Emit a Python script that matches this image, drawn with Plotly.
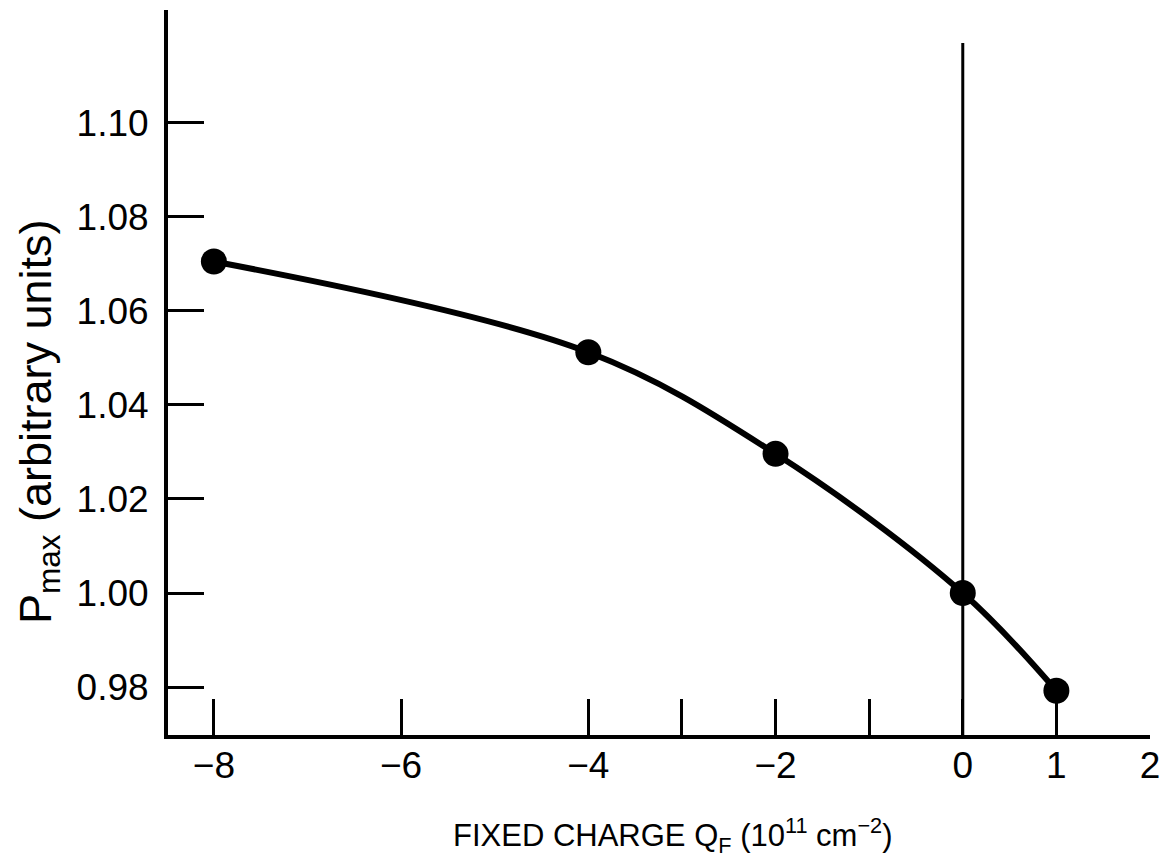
import plotly.graph_objects as go

# Data
charge = [-8, -4, -2, 0, 1]
pmax = [1.0705, 1.0512, 1.0296, 1.0, 0.9792]

x_tickvals = [-8, -6, -4, -3, -2, -1, 0, 1, 2]
x_ticktext = ["\u22128", "\u22126", "\u22124", "", "\u22122", "", "0", "1", "2"]
y_tickvals = [0.98, 1.00, 1.02, 1.04, 1.06, 1.08, 1.10]
y_ticktext = ["0.98", "1.00", "1.02", "1.04", "1.06", "1.08", "1.10"]

x_range = [-8.49, 2.0]
y_range = [0.9698, 1.124]
zero_line_top = 1.117

x_title = "FIXED CHARGE Q<sub>F</sub> (10<sup>11</sup> cm<sup>\u22122</sup>)"
y_title = "P<sub>max</sub> (arbitrary units)"

FONT = "Liberation Sans, Arial, Helvetica, sans-serif"

# page body has an 8px margin; keep figure inside the 1170x864 window
W, H = 1162, 856
L, R, T, B = 160, 20, 2, 129

fig = go.Figure()
fig.add_trace(go.Scatter(
    x=charge, y=pmax, mode="lines+markers",
    line=dict(color="black", width=6, shape="spline", smoothing=1.0),
    marker=dict(color="black", size=26),
    showlegend=False, hoverinfo="skip",
))

fig.add_shape(type="line", xref="x", yref="y",
              x0=0, x1=0, y0=y_range[0], y1=zero_line_top,
              line=dict(color="black", width=3), layer="below")

fig.update_layout(
    width=W, height=H,
    margin=dict(l=L, r=R, t=T, b=B),
    paper_bgcolor="white", plot_bgcolor="white",
    font=dict(family=FONT, color="black", size=37),
)

fig.update_xaxes(
    range=x_range, tickmode="array", tickvals=x_tickvals, ticktext=x_ticktext,
    ticks="inside", ticklen=36, tickwidth=3, tickcolor="black",
    showline=True, linewidth=4, linecolor="black",
    showgrid=False, zeroline=False,
    tickfont=dict(family=FONT, size=37, color="black"),
    ticklabelstandoff=-5,
)
fig.update_yaxes(
    range=y_range, tickmode="array", tickvals=y_tickvals, ticktext=y_ticktext,
    ticks="inside", ticklen=36, tickwidth=3, tickcolor="black",
    showline=True, linewidth=4, linecolor="black",
    showgrid=False, zeroline=False,
    tickfont=dict(family=FONT, size=37, color="black"),
    ticklabelstandoff=8,
)

pw = W - L - R
ph = H - T - B
# x title centred near page x=672, y=836 ; y title centred near page x=38, y=422
fig.add_annotation(
    text=x_title, xref="paper", yref="paper",
    x=(672 - 8 - L) / pw, y=-(836 - 8 - (T + ph)) / ph,
    xanchor="center", yanchor="middle", showarrow=False,
    font=dict(family=FONT, size=31, color="black"),
)
fig.add_annotation(
    text=y_title, xref="paper", yref="paper", textangle=-90,
    x=(38 - 8 - L) / pw, y=1 - (422 - 8 - T) / ph,
    xanchor="center", yanchor="middle", showarrow=False,
    font=dict(family=FONT, size=45, color="black"),
)

fig.write_html("out.html")
